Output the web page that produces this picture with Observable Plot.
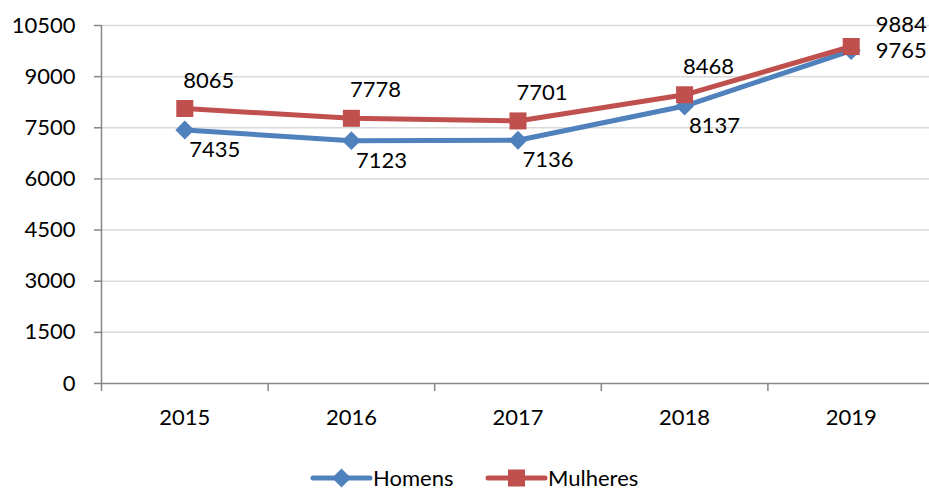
<!DOCTYPE html>
<html>
<head>
<meta charset="utf-8">
<script src="https://cdn.jsdelivr.net/npm/d3@7"></script>
<script src="https://cdn.jsdelivr.net/npm/@observablehq/plot@0.6"></script>
<style>
  body { margin: 0; background: #fff; font-family: Lato, "Open Sans", sans-serif; }
  #chart svg { display: block; overflow: hidden; }
  #legend { height: 47px; position: relative; }
</style>
</head>
<body>
<div id="chart"></div>
<div id="legend"></div>
<script>
const years = [2015, 2016, 2017, 2018, 2019];
const homens = [7435, 7123, 7136, 8137, 9765];
const mulheres = [8065, 7778, 7701, 8468, 9884];
const yTicks = [0, 1500, 3000, 4500, 6000, 7500, 9000, 10500];
const seriesNames = ["Homens", "Mulheres"];
const colors = ["#4F81BD", "#C0504D"];

const data = [];
years.forEach((y, i) => {
  data.push({year: y, value: homens[i], serie: seriesNames[0]});
  data.push({year: y, value: mulheres[i], serie: seriesNames[1]});
});
const H = data.filter(d => d.serie === "Homens");
const M = data.filter(d => d.serie === "Mulheres");
const last = years[years.length - 1];
const bounds = d3.range(years[0] - 0.5, last + 1, 1);

const plot = Plot.plot({
  width: 929,
  height: 445,
  marginTop: 25,
  marginBottom: 62,
  marginLeft: 101,
  marginRight: 0,
  style: {fontFamily: "Lato, 'Open Sans', sans-serif", fontSize: "22px", color: "#000", background: "#fff"},
  x: {type: "linear", domain: [years[0] - 0.5, last + 0.5], range: [101, 934]},
  y: {domain: [0, 10500]},
  color: {domain: seriesNames, range: colors},
  marks: [
    Plot.ruleY(yTicks.slice(1), {x1: years[0] - 0.5, x2: last + 0.5, stroke: "#D9D9D9", strokeWidth: 1.5}),
    Plot.ruleY([0], {x1: years[0] - 0.5, x2: last + 0.5, stroke: "#868686", strokeWidth: 1.5}),
    Plot.ruleX([years[0] - 0.5], {y1: 0, y2: 10500, stroke: "#868686", strokeWidth: 1.5}),
    Plot.axisY({ticks: yTicks, tickSize: 7, tickPadding: 19, stroke: "#868686", strokeWidth: 1.5, tickFormat: d => String(d), label: null, fontSize: 22}),
    Plot.axisX({ticks: bounds, tickSize: 8, tickFormat: () => "", stroke: "#868686", strokeWidth: 1.5, label: null}),
    Plot.axisX({ticks: years, tickSize: 0, tickPadding: 26, tickFormat: d => String(d), label: null, fontSize: 22}),
    Plot.line(H, {x: "year", y: "value", stroke: colors[0], strokeWidth: 5}),
    Plot.line(M, {x: "year", y: "value", stroke: colors[1], strokeWidth: 5}),
    Plot.dot(H, {x: "year", y: "value", symbol: "diamond2", r: 8.5, fill: colors[0], stroke: "none"}),
    Plot.dot(M, {x: "year", y: "value", symbol: "square", r: 9.6, fill: colors[1], stroke: "none"}),
    Plot.text(M.filter(d => d.year !== last), {x: "year", y: "value", text: d => String(d.value), dx: 24, dy: -28, fontSize: 22, fill: "#000"}),
    Plot.text(H.filter(d => d.year !== last), {x: "year", y: "value", text: d => String(d.value), dx: 30, dy: 20, fontSize: 22, fill: "#000"}),
    Plot.text(M.filter(d => d.year === last), {x: "year", y: "value", text: d => String(d.value), dx: 50, dy: -22, fontSize: 22, fill: "#000"}),
    Plot.text(H.filter(d => d.year === last), {x: "year", y: "value", text: d => String(d.value), dx: 50, dy: 0, fontSize: 22, fill: "#000"})
  ]
});
document.getElementById("chart").appendChild(plot);

// Legend (below the SVG)
const lg = d3.select("#legend").append("svg").attr("width", 929).attr("height", 47);
const items = [
  {name: seriesNames[0], color: colors[0], x: 313, sym: d3.symbolDiamond2, size: 230},
  {name: seriesNames[1], color: colors[1], x: 488, sym: d3.symbolSquare, size: 290}
];
const cy = 33;
items.forEach(it => {
  const g = lg.append("g");
  g.append("line").attr("x1", it.x).attr("x2", it.x + 57).attr("y1", cy).attr("y2", cy)
    .attr("stroke", it.color).attr("stroke-width", 5).attr("stroke-linecap", "round");
  g.append("path").attr("d", d3.symbol(it.sym, it.size)()).attr("transform", `translate(${it.x + 28.5},${cy})`).attr("fill", it.color);
  g.append("text").attr("x", it.x + 60).attr("y", cy).attr("dy", "0.35em")
    .attr("font-family", "Lato, 'Open Sans', sans-serif").attr("font-size", 22).attr("fill", "#000").text(it.name);
});
</script>
</body>
</html>
